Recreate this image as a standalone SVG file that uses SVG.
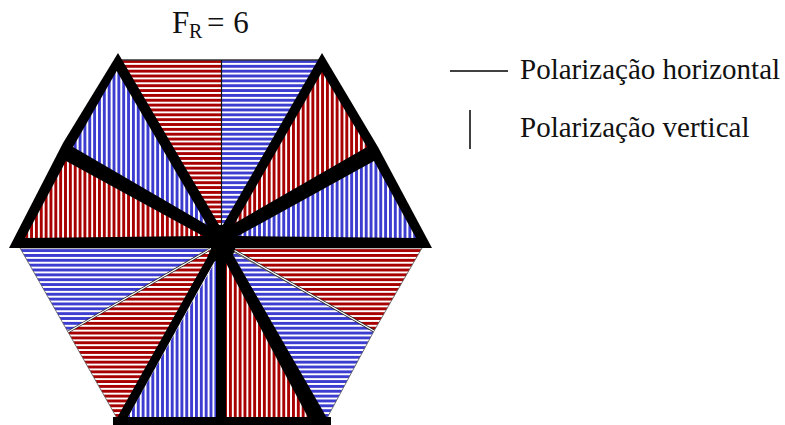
<svg xmlns="http://www.w3.org/2000/svg" width="785" height="425" viewBox="0 0 785 425">
<style>
text{font-family:"Liberation Serif","Times New Roman",serif;fill:#111;font-size:29px}
.k{fill:#000}
.o{stroke:#555;stroke-width:.8}
.rh{fill:url(#rh)}.bh{fill:url(#bh)}.rv{fill:url(#rv)}.bv{fill:url(#bv)}
</style>
<defs>
<pattern id="rh" patternUnits="userSpaceOnUse" width="10" height="4.85" y="60"><rect width="10" height="4.85" fill="#fff"/><rect width="10" height="2.9" fill="#a80000"/></pattern>
<pattern id="bh" patternUnits="userSpaceOnUse" width="10" height="4.85" y="60"><rect width="10" height="4.85" fill="#fff"/><rect width="10" height="2.9" fill="#3c3cd0"/></pattern>
<pattern id="rv" patternUnits="userSpaceOnUse" width="4.85" height="10" x="1"><rect width="4.85" height="10" fill="#fff"/><rect width="2.9" height="10" fill="#a80000"/></pattern>
<pattern id="bv" patternUnits="userSpaceOnUse" width="4.85" height="10" x="1"><rect width="4.85" height="10" fill="#fff"/><rect width="2.9" height="10" fill="#3c3cd0"/></pattern>
</defs>
<g id="hexagon">
<polygon class="rh" points="121,60 221,60 221,232"/>
<polygon class="bh" points="221,60 319,60 221,232"/>
<polygon class="bh o" points="20,248 210,248 68,332"/>
<polygon class="rh o" points="68,332 210,250 214,262 118,420"/>
<polygon class="rh o" points="230,248 422,248 374,331"/>
<polygon class="bh o" points="230,250 374,331 326,420"/>
<path d="M120 60H322" stroke="#333" stroke-width="1.3" fill="none"/>
<path d="M221.500 60V232" stroke="#111" stroke-width="1.2" fill="none"/>
<polygon class="k" points="118,53 63,143 9,248 225,248 225,235"/>
<polygon class="k" points="322,53 378,147 432,248 217,248 217,235"/>
<polygon class="bv" points="116.700,71 73,147 207,225"/>
<polygon class="rv" points="66,161 25,238 203,236"/>
<polygon class="rv" points="322,72 367,147 235,223"/>
<polygon class="bv" points="374,161 416,238 238,236"/>
<polygon class="bv" points="128,417 216,417 216,260"/>
<polygon class="rv" points="226,262 226,417 312,417"/>
<path d="M207 251 68 332M232 249 374 331" stroke="#222" stroke-width="2.600" fill="none"/>
<path d="M207 251 68 332M232 249 374 331" stroke="#fff" stroke-width="1.200" fill="none"/>
<polygon class="k" points="212,246 236,246 233,255 221,258 214,262 128,417 128,425 113,425 207,258"/>
<polygon class="k" points="222,246 233,255 331,425 312,425 226,263"/>
<rect class="k" x="216" y="240" width="10" height="185"/>
<rect class="k" x="113" y="417" width="218" height="8"/>
<circle class="k" cx="220" cy="238" r="13"/>
</g>
<g id="title"><text x="172" y="33" style="font-size:31px">F</text><text x="189" y="38" style="font-size:20px">R</text><text x="207" y="33" style="font-size:31px" word-spacing="1">= 6</text></g>
<g id="legend-horizontal"><path d="M450 71H508" stroke="#000" stroke-width="1.500"/><text x="520" y="79">Polarização horizontal</text></g>
<g id="legend-vertical"><path d="M470 110V149" stroke="#000" stroke-width="1.500"/><text x="520" y="137">Polarização vertical</text></g>
</svg>
